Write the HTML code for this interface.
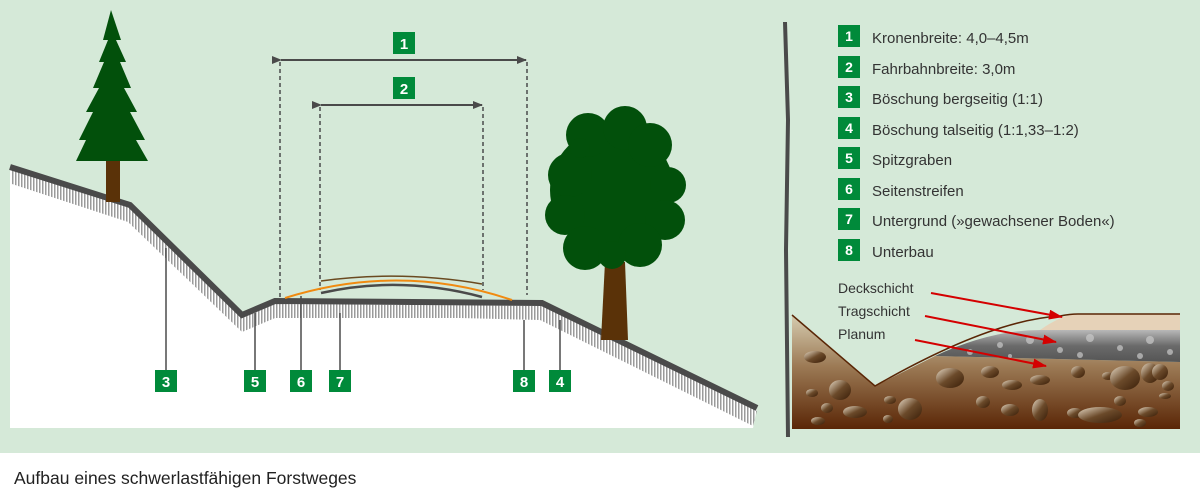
<!DOCTYPE html>
<html><head><meta charset="utf-8"><style>
html,body{margin:0;padding:0;background:#fff;width:1200px;height:496px;overflow:hidden}
svg{display:block}
text{font-family:"Liberation Sans",sans-serif}
</style></head><body>
<svg width="1200" height="496" viewBox="0 0 1200 496" xmlns="http://www.w3.org/2000/svg">
<defs>
<pattern id="hatch" width="3" height="20" patternUnits="userSpaceOnUse"><rect x="0" y="0" width="1.5" height="20" fill="#9a9a9a"/></pattern>
<linearGradient id="soil" x1="0" y1="0" x2="0" y2="1">
<stop offset="0" stop-color="#d6ccb0"/><stop offset="0.45" stop-color="#9c7a55"/><stop offset="1" stop-color="#5a2606"/></linearGradient>
<linearGradient id="grav" x1="0" y1="0" x2="0" y2="1">
<stop offset="0" stop-color="#b8b8b8"/><stop offset="0.5" stop-color="#6a6a6a"/><stop offset="1" stop-color="#555"/></linearGradient>
<linearGradient id="stone" x1="0" y1="0" x2="1" y2="1">
<stop offset="0" stop-color="#e8dcc8"/><stop offset="0.5" stop-color="#6b4a2a"/><stop offset="1" stop-color="#3a1e08"/></linearGradient>
<marker id="ah" markerWidth="10" markerHeight="8" refX="9" refY="4" orient="auto" markerUnits="userSpaceOnUse"><path d="M0,0 L10,4 L0,8 z" fill="#4a4a4a"/></marker>
<marker id="rh" markerWidth="14" markerHeight="10" refX="13" refY="5" orient="auto" markerUnits="userSpaceOnUse"><path d="M0,0 L14,5 L0,10 z" fill="#d40000"/></marker>
</defs>
<rect x="0" y="0" width="1200" height="453" fill="#d5e9d8"/>

<!-- ground white -->
<path d="M10,167 L130,205 L242,315 L275,301 L542,303 L757,408 L753,428 L10,428 Z" fill="#fff"/>
<!-- hatching band -->
<path d="M12,170 L130,208 L242,318 L275,304 L542,306 L757,411 L753,426 L540,320 L460,318 L275,318 L242,332 L128,222 L12,184 Z" fill="url(#hatch)"/>
<path d="M10,167 L130,205 L242,315 L275,301 L542,303 L757,408" fill="none" stroke="#4a4a4a" stroke-width="6"/>

<!-- fir tree -->
<rect x="106" y="158" width="14" height="44" fill="#5a3208"/>
<path d="M111,10 L121,40 L116,40 L126,62 L120,62 L131,88 L124,88 L137,112 L130,112 L145,140 L136,140 L148,161 L76,161 L86,140 L79,140 L93,112 L86,112 L99,88 L93,88 L104,62 L99,62 L108,40 L103,40 Z" fill="#02500b"/>

<!-- deciduous tree -->
<path d="M605,262 L625,262 L628,340 L601,340 Z" fill="#5a3208"/>
<g fill="#02500b">
<circle cx="612" cy="190" r="62"/>
<circle cx="588" cy="135" r="22"/>
<circle cx="625" cy="128" r="22"/>
<circle cx="650" cy="145" r="22"/>
<circle cx="668" cy="185" r="18"/>
<circle cx="570" cy="175" r="22"/>
<circle cx="565" cy="215" r="20"/>
<circle cx="665" cy="220" r="20"/>
<circle cx="585" cy="248" r="22"/>
<circle cx="640" cy="245" r="22"/>
<circle cx="612" cy="255" r="14"/>
<circle cx="580" cy="148" r="10"/>
</g>

<!-- dimension lines -->
<g stroke="#4a4a4a" stroke-width="1.5" stroke-dasharray="4,3" fill="none">
<line x1="280" y1="62" x2="280" y2="298"/>
<line x1="527" y1="62" x2="527" y2="295"/>
<line x1="320" y1="107" x2="320" y2="290"/>
<line x1="483" y1="107" x2="483" y2="290"/>
</g>
<line x1="281" y1="60" x2="526" y2="60" stroke="#4a4a4a" stroke-width="2" marker-start="url(#ah)" marker-end="url(#ah)"/>
<line x1="321" y1="105" x2="482" y2="105" stroke="#4a4a4a" stroke-width="2" marker-start="url(#ah)" marker-end="url(#ah)"/>

<!-- road arcs -->
<path d="M285,298 Q400,262 512,300" fill="none" stroke="#f08a10" stroke-width="2"/>
<path d="M321,281 Q400,270 482,284" fill="none" stroke="#6a4a20" stroke-width="1.5"/>
<path d="M321,293 Q400,275 482,297" fill="none" stroke="#4a4a4a" stroke-width="2.5"/>

<!-- leaders -->
<g stroke="#4a4a4a" stroke-width="1.5">
<line x1="166" y1="248" x2="166" y2="370"/>
<line x1="255" y1="313" x2="255" y2="370"/>
<line x1="301" y1="296" x2="301" y2="370"/>
<line x1="340" y1="313" x2="340" y2="370"/>
<line x1="524" y1="320" x2="524" y2="370"/>
<line x1="560" y1="320" x2="560" y2="370"/>
</g>
<g fill="#008a3a">
<rect x="393" y="32" width="22" height="22"/><rect x="393" y="77" width="22" height="22"/>
<rect x="155" y="370" width="22" height="22"/><rect x="244" y="370" width="22" height="22"/>
<rect x="290" y="370" width="22" height="22"/><rect x="329" y="370" width="22" height="22"/>
<rect x="513" y="370" width="22" height="22"/><rect x="549" y="370" width="22" height="22"/>
</g>
<g fill="#fff" font-size="15" font-weight="bold" text-anchor="middle">
<text x="404" y="49">1</text><text x="404" y="94">2</text>
<text x="166" y="387">3</text><text x="255" y="387">5</text>
<text x="301" y="387">6</text><text x="340" y="387">7</text>
<text x="524" y="387">8</text><text x="560" y="387">4</text>
</g>

<!-- divider -->
<path d="M785,22 L788,120 L786,250 L788,437" stroke="#4a4a4a" stroke-width="4" fill="none"/>

<!-- legend -->
<g fill="#008a3a">
<rect x="838" y="25" width="22" height="22"/><rect x="838" y="56" width="22" height="22"/>
<rect x="838" y="86" width="22" height="22"/><rect x="838" y="117" width="22" height="22"/>
<rect x="838" y="147" width="22" height="22"/><rect x="838" y="178" width="22" height="22"/>
<rect x="838" y="208" width="22" height="22"/><rect x="838" y="239" width="22" height="22"/>
</g>
<g fill="#fff" font-size="14" font-weight="bold" text-anchor="middle">
<text x="849" y="41">1</text><text x="849" y="72">2</text><text x="849" y="102">3</text><text x="849" y="133">4</text>
<text x="849" y="163">5</text><text x="849" y="194">6</text><text x="849" y="224">7</text><text x="849" y="255">8</text>
</g>
<g fill="#333" font-size="15">
<text x="872" y="43">Kronenbreite: 4,0–4,5m</text>
<text x="872" y="74">Fahrbahnbreite: 3,0m</text>
<text x="872" y="104">Böschung bergseitig (1:1)</text>
<text x="872" y="135">Böschung talseitig (1:1,33–1:2)</text>
<text x="872" y="165">Spitzgraben</text>
<text x="872" y="196">Seitenstreifen</text>
<text x="872" y="226">Untergrund (»gewachsener Boden«)</text>
<text x="872" y="257">Unterbau</text>
</g>

<!-- soil section -->
<path d="M792,315 L875,386 L935,356 L1180,362 L1180,429 L792,429 Z" fill="url(#soil)"/>
<path d="M935,356 Q990,330 1040,330 L1180,330 L1180,362 Z" fill="url(#grav)"/>
<path d="M1040,330 Q1060,316 1075,314 L1180,314 L1180,330 Z" fill="#e6d2b8"/>
<path d="M792,315 L875,386 Q990,320 1060,316 Q1070,314 1078,314 L1180,314" fill="none" stroke="#5a2606" stroke-width="1.5"/>
<g fill="#c9c9c9" opacity="0.7">
<circle cx="1000" cy="345" r="3"/><circle cx="1030" cy="340" r="4"/><circle cx="1060" cy="350" r="3"/><circle cx="1090" cy="338" r="4"/>
<circle cx="1120" cy="348" r="3"/><circle cx="1150" cy="340" r="4"/><circle cx="1170" cy="352" r="3"/><circle cx="1080" cy="355" r="3"/>
<circle cx="970" cy="352" r="3"/><circle cx="1140" cy="356" r="3"/><circle cx="1010" cy="356" r="2"/>
</g>
<g fill="url(#stone)">
<ellipse cx="815" cy="357" rx="11" ry="6"/><ellipse cx="840" cy="390" rx="11" ry="10"/><ellipse cx="812" cy="393" rx="6" ry="4"/>
<ellipse cx="827" cy="408" rx="6" ry="5"/><ellipse cx="855" cy="412" rx="12" ry="6"/><ellipse cx="818" cy="421" rx="7" ry="4"/>
<ellipse cx="890" cy="400" rx="6" ry="4"/><ellipse cx="910" cy="409" rx="12" ry="11"/><ellipse cx="888" cy="419" rx="5" ry="4"/>
<ellipse cx="950" cy="378" rx="14" ry="10"/><ellipse cx="990" cy="372" rx="9" ry="6"/><ellipse cx="1012" cy="385" rx="10" ry="5"/>
<ellipse cx="983" cy="402" rx="7" ry="6"/><ellipse cx="1010" cy="410" rx="9" ry="6"/><ellipse cx="1040" cy="410" rx="8" ry="11"/>
<ellipse cx="1040" cy="380" rx="10" ry="5"/><ellipse cx="1075" cy="413" rx="8" ry="5"/><ellipse cx="1100" cy="415" rx="22" ry="8"/>
<ellipse cx="1078" cy="372" rx="7" ry="6"/><ellipse cx="1108" cy="376" rx="6" ry="4"/><ellipse cx="1125" cy="378" rx="15" ry="12"/>
<ellipse cx="1150" cy="373" rx="9" ry="10"/><ellipse cx="1160" cy="372" rx="8" ry="8"/><ellipse cx="1168" cy="386" rx="6" ry="5"/>
<ellipse cx="1165" cy="396" rx="6" ry="3"/><ellipse cx="1120" cy="401" rx="6" ry="5"/><ellipse cx="1148" cy="412" rx="10" ry="5"/><ellipse cx="1140" cy="423" rx="6" ry="4"/>
</g>
<g fill="#333" font-size="14">
<text x="838" y="293">Deckschicht</text>
<text x="838" y="316">Tragschicht</text>
<text x="838" y="339">Planum</text>
</g>
<g stroke="#d40000" stroke-width="2" fill="none">
<line x1="931" y1="293" x2="1062" y2="317" marker-end="url(#rh)"/>
<line x1="925" y1="316" x2="1056" y2="342" marker-end="url(#rh)"/>
<line x1="915" y1="340" x2="1046" y2="366" marker-end="url(#rh)"/>
</g>

<text x="14" y="484" font-size="17.5" fill="#222">Aufbau eines schwerlastfähigen Forstweges</text>
</svg>
</body></html>
